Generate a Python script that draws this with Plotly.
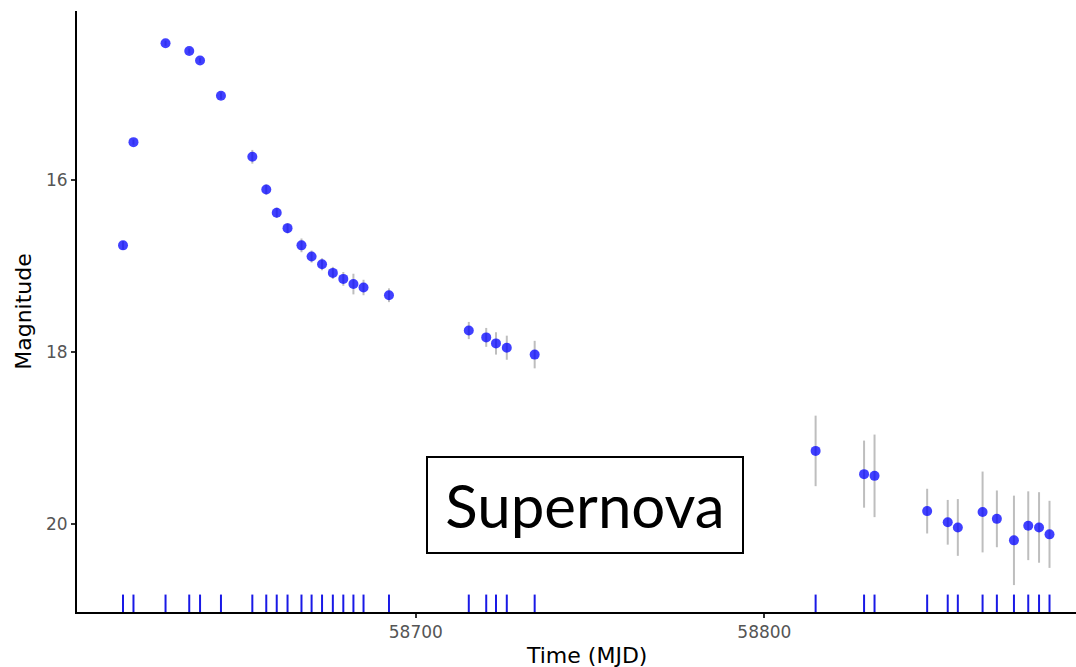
import plotly.graph_objects as go

# Observation times (MJD)
mjd = [58616.0, 58619.0, 58628.2, 58635.0, 58638.1, 58644.1, 58653.1, 58657.1,
       58660.1, 58663.2, 58667.2, 58670.1, 58673.1, 58676.2, 58679.2, 58682.1,
       58685.0, 58692.3, 58715.2, 58720.2, 58723.0, 58726.1, 58734.1, 58814.7,
       58828.6, 58831.6, 58846.7, 58852.6, 58855.5, 58862.6, 58866.7, 58871.6,
       58875.7, 58878.8, 58881.8]

# Magnitudes
mag = [16.76, 15.56, 14.41, 14.50, 14.61, 15.02, 15.73, 16.11, 16.38, 16.56,
       16.76, 16.89, 16.98, 17.08, 17.15, 17.21, 17.25, 17.34, 17.75, 17.83,
       17.90, 17.95, 18.03, 19.15, 19.42, 19.44, 19.85, 19.98, 20.04, 19.86,
       19.94, 20.19, 20.02, 20.04, 20.12]

# Magnitude uncertainties
mag_err = [0.05, 0.03, 0.03, 0.03, 0.03, 0.04, 0.08, 0.06, 0.06, 0.06, 0.08,
           0.07, 0.07, 0.07, 0.08, 0.12, 0.09, 0.08, 0.10, 0.11, 0.13, 0.14,
           0.16, 0.41, 0.39, 0.48, 0.26, 0.26, 0.33, 0.47, 0.33, 0.52, 0.40,
           0.41, 0.39]

x_ticks = [58700, 58800]
y_ticks = [16, 18, 20]
label_text = "Supernova"

W, H = 1076, 667
L, R, T, B = 77, 0, 11, 55

fig = go.Figure()

fig.add_trace(go.Scatter(
    x=mjd, y=mag, mode="markers",
    marker=dict(size=10, color="rgba(0,0,255,0.75)", line=dict(width=0)),
    error_y=dict(type="data", array=mag_err, visible=True,
                 color="rgba(190,190,190,1)", thickness=2, width=0),
    showlegend=False, hoverinfo="x+y",
))

# rug on the x axis
rx, ry = [], []
for t in mjd:
    rx += [t, t, None]
    ry += [0, 0.029, None]
fig.add_trace(go.Scatter(
    x=rx, y=ry, mode="lines", yaxis="y2",
    line=dict(color="rgb(25,25,230)", width=2),
    showlegend=False, hoverinfo="skip",
))

tickfont = dict(family="DejaVu Sans", size=17, color="#555555")
fig.update_layout(
    width=W, height=H,
    margin=dict(l=L, r=R, t=T, b=B),
    paper_bgcolor="white", plot_bgcolor="white",
    xaxis=dict(range=[58602.8, 58889.4], tickvals=x_ticks, tickformat="d",
               showgrid=False, zeroline=False, showline=True,
               linecolor="black", linewidth=2, ticks="outside", ticklen=4,
               tickwidth=1.5, tickcolor="#333333", tickfont=tickfont),
    yaxis=dict(range=[21.023, 14.035], tickvals=y_ticks,
               showgrid=False, zeroline=False, showline=True,
               linecolor="black", linewidth=2, ticks="outside", ticklen=4,
               tickwidth=1.5, tickcolor="#333333", tickfont=tickfont,
               title=dict(text="Magnitude", standoff=8,
                          font=dict(family="DejaVu Sans", size=22, color="black"))),
    yaxis2=dict(range=[0, 1], overlaying="y", visible=False, fixedrange=True),
)

# x-axis title
fig.add_annotation(
    text="Time (MJD)", xref="paper", yref="paper",
    x=(586 - L) / (W - L - R), y=(H - B - 655) / (H - T - B),
    xanchor="center", yanchor="middle", showarrow=False,
    font=dict(family="DejaVu Sans", size=22, color="black"),
)

# label box
fig.add_annotation(
    text=label_text, xref="paper", yref="paper",
    x=(585 - L) / (W - L - R), y=(H - B - 505) / (H - T - B),
    xanchor="center", yanchor="middle", showarrow=False,
    width=314, height=94, borderpad=0, borderwidth=2,
    bordercolor="black", bgcolor="white",
    font=dict(family="Lato", size=60, color="black"),
)

fig.write_html("out.html")
